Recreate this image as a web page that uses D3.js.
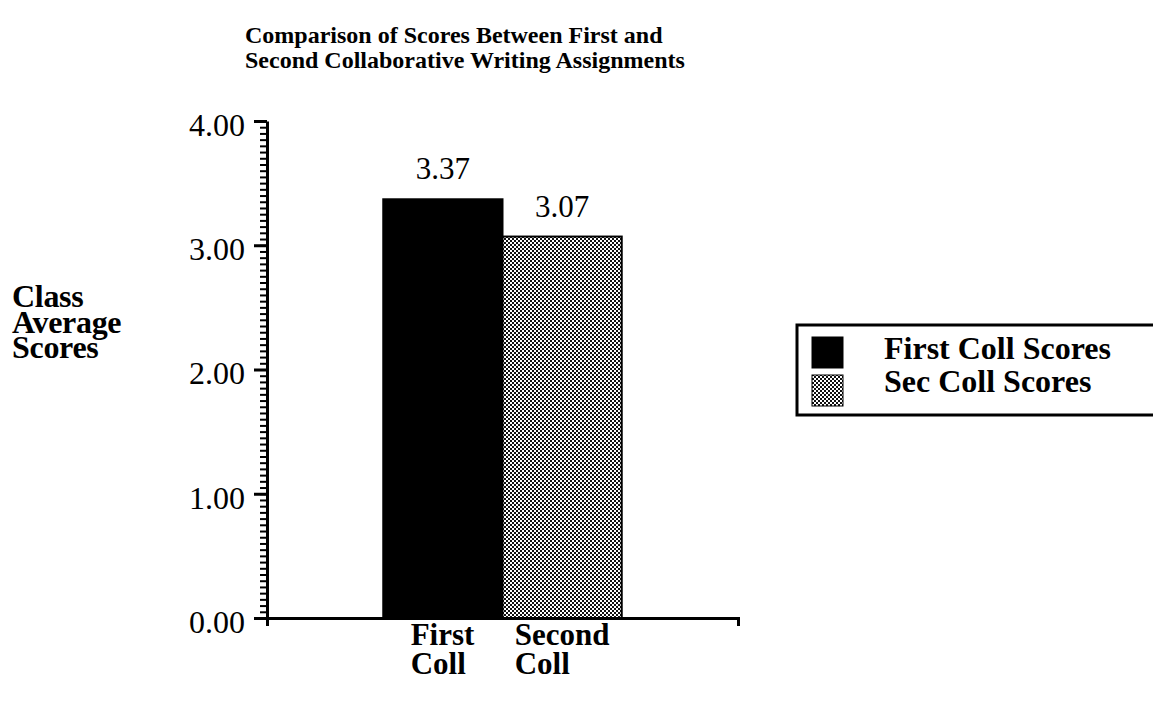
<!DOCTYPE html>
<html>
<head>
<meta charset="utf-8">
<script src="https://cdn.jsdelivr.net/npm/d3@7"></script>
<style>
  html, body { margin: 0; padding: 0; background: #fff; }
  svg { display: block; }
  text { font-family: "Liberation Serif", "Times New Roman", serif; fill: #000; }
</style>
</head>
<body>
<svg id="chart" width="1153" height="704"></svg>
<script>
// Class averages for the two collaborative writing assignments
const categories = ["First Coll", "Second Coll"];
const categoryLines = [["First", "Coll"], ["Second", "Coll"]];
const scores = [3.37, 3.07];
const seriesNames = ["First Coll Scores", "Sec Coll Scores"];
const yTicks = [0, 1, 2, 3, 4];
const titleLines = ["Comparison of Scores Between First and", "Second Collaborative Writing Assignments"];
const yTitleLines = ["Class", "Average", "Scores"];

const svg = d3.select("#chart");

// stippled fill for the second series
const defs = svg.append("defs");
const pat = defs.append("pattern")
  .attr("id", "stipple").attr("patternUnits", "userSpaceOnUse")
  .attr("width", 4).attr("height", 4);
pat.append("rect").attr("width", 4).attr("height", 4).attr("fill", "#111");
pat.append("rect").attr("x", 0).attr("y", 0).attr("width", 2).attr("height", 2).attr("fill", "#fff");
pat.append("rect").attr("x", 2).attr("y", 2).attr("width", 2).attr("height", 2).attr("fill", "#fff");
const fills = ["#000", "url(#stipple)"];

// plot frame
const x0 = 267, x1 = 738, yTop = 121, yBase = 618;

const y = d3.scaleLinear().domain([0, 4]).range([yBase, yTop]);
const x = d3.scaleBand().domain(categories).range([x0, x1])
  .paddingInner(0).paddingOuter(0.975);

// multi-line text block: one <text> with a <tspan> per line
function multiline(parent, lines, xPos, yPos, lineH) {
  const t = parent.append("text").attr("x", xPos).attr("y", yPos);
  t.selectAll("tspan").data(lines).join("tspan")
    .attr("x", xPos).attr("y", (d, i) => yPos + i * lineH).text(d => d);
  return t;
}

// title
multiline(svg, titleLines, 245, 43, 24.5)
  .attr("font-size", 24).attr("font-weight", "bold");

// y-axis title
multiline(svg, yTitleLines, 12, 307, 25.5)
  .attr("font-size", 32).attr("font-weight", "bold").attr("letter-spacing", -0.3);

// bars
svg.append("g").selectAll("rect").data(scores).join("rect")
  .attr("x", (d, i) => x(categories[i]))
  .attr("y", d => y(d))
  .attr("width", x.bandwidth())
  .attr("height", d => y(0) - y(d))
  .attr("fill", (d, i) => fills[i])
  .attr("stroke", "#000").attr("stroke-width", 2);

// value labels
svg.append("g").selectAll("text").data(scores).join("text")
  .attr("x", (d, i) => x(categories[i]) + x.bandwidth() / 2)
  .attr("y", d => y(d) - 20)
  .attr("text-anchor", "middle").attr("font-size", 31)
  .text(d => d.toFixed(2));

// minor ticks on the y axis
const minor = d3.range(0, 4.0001, 0.05);
svg.append("g").attr("transform", `translate(${x0},0)`)
  .call(d3.axisLeft(y).tickValues(minor).tickSize(7).tickFormat("").tickSizeOuter(0))
  .call(g => g.select(".domain").remove())
  .call(g => g.selectAll(".tick line").attr("stroke", "#000").attr("stroke-width", 2));

// major ticks and labels
svg.append("g").attr("transform", `translate(${x0},0)`)
  .call(d3.axisLeft(y).tickValues(yTicks).tickSize(13).tickSizeOuter(0)
    .tickFormat(d3.format(".2f")).tickPadding(9))
  .call(g => g.select(".domain").attr("stroke", "#000").attr("stroke-width", 3))
  .call(g => g.selectAll(".tick line").attr("stroke", "#000").attr("stroke-width", 3))
  .call(g => g.selectAll(".tick text")
    .attr("font-family", "'Liberation Serif', serif")
    .attr("font-size", 32).attr("fill", "#000").attr("dy", "0.45em"));

// x axis baseline with end ticks
svg.append("g").attr("transform", `translate(0,${yBase})`)
  .call(d3.axisBottom(x).tickSize(0).tickSizeOuter(8).tickFormat(""))
  .call(g => g.select(".domain").attr("stroke", "#000").attr("stroke-width", 3));

// category labels: each block centred on its bar, lines left-aligned
const catG = svg.append("g");
categoryLines.forEach((lines, i) => {
  const t = multiline(catG, lines, 0, 645, 28.5)
    .attr("font-size", 31).attr("font-weight", "bold");
  const w = t.node().getBBox().width;
  const left = x(categories[i]) + x.bandwidth() / 2 - w / 2;
  t.attr("x", left).selectAll("tspan").attr("x", left);
});

// legend
const lg = svg.append("g");
lg.append("rect").attr("x", 797).attr("y", 325).attr("width", 400).attr("height", 90)
  .attr("fill", "none").attr("stroke", "#000").attr("stroke-width", 3);
lg.selectAll("rect.swatch").data(seriesNames).join("rect").attr("class", "swatch")
  .attr("x", 812).attr("y", (d, i) => 337 + i * 38)
  .attr("width", 31).attr("height", 31)
  .attr("fill", (d, i) => fills[i]).attr("stroke", "#000").attr("stroke-width", 1);
lg.selectAll("text").data(seriesNames).join("text")
  .attr("x", 884).attr("y", (d, i) => 359 + i * 33)
  .attr("font-size", 32).attr("font-weight", "bold").text(d => d);
</script>
</body>
</html>
